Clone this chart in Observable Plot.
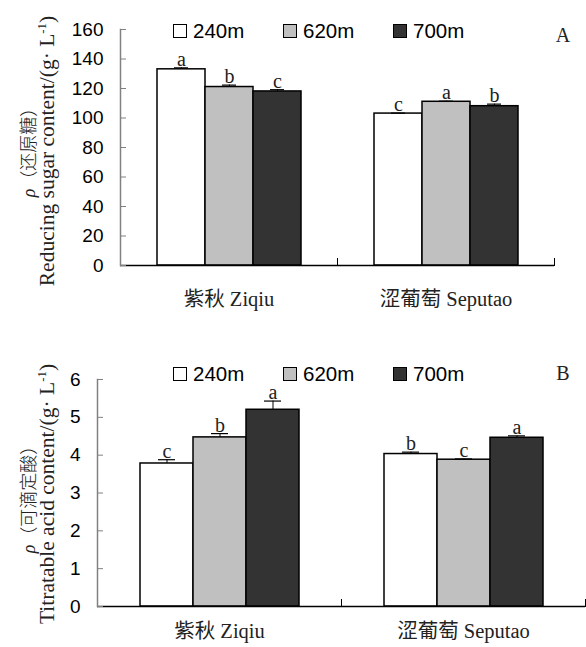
<!DOCTYPE html>
<html>
<head>
<meta charset="utf-8">
<script src="https://cdn.jsdelivr.net/npm/d3@7"></script>
<script src="https://cdn.jsdelivr.net/npm/@observablehq/plot@0.6"></script>
<style>
  body { margin: 0; background: #fff; }
  #wrap { position: relative; width: 586px; height: 647px; overflow: hidden; background: #fff; }
  .panel { position: absolute; left: 0; }
  .ylab { position: absolute; white-space: nowrap; font-family: "Liberation Serif", "Times New Roman", "Noto Sans CJK SC", serif; color: #222; line-height: 1; transform: translate(-50%, -50%) rotate(-90deg); }
  .cjk { font-family: "Noto Sans CJK SC", sans-serif; font-weight: 300; }
  .legend { position: absolute; font-family: "Liberation Sans", Arial, sans-serif; font-size: 20.5px; color: #000; }
  .legend .item { position: absolute; top: 0; white-space: nowrap; display: flex; align-items: center; }
  .legend .sw { width: 12px; height: 12px; border: 1.5px solid #000; margin-right: 6px; }
  .plabel { position: absolute; font-family: "Liberation Serif", "Times New Roman", serif; font-size: 20px; color: #222; transform: translate(-50%, -50%); }
  sup { font-size: 0.6em; }
</style>
</head>
<body>
<div id="wrap"></div>
<script>
const cultivars = ["紫秋 Ziqiu", "涩葡萄 Seputao"];
const altitudes = ["240m", "620m", "700m"];
const fills = ["#ffffff", "#c0c0c0", "#333333"];

const sugarValues = [[133, 121, 118], [103, 111, 108]];
const sugarErrors = [[1, 1.3, 1.2], [0.3, 0.4, 1.4]];
const sugarLetters = [["a", "b", "c"], ["c", "a", "b"]];
const sugarTicks = [0, 20, 40, 60, 80, 100, 120, 140, 160];

const acidValues = [[3.78, 4.47, 5.2], [4.03, 3.88, 4.46]];
const acidErrors = [[0.1, 0.1, 0.23], [0.05, 0.02, 0.05]];
const acidLetters = [["c", "b", "a"], ["b", "c", "a"]];
const acidTicks = [0, 1, 2, 3, 4, 5, 6];

const sans = "'Liberation Sans', Arial, sans-serif";
const serif = "'Liberation Serif', 'Times New Roman', 'Noto Sans CJK SC', serif";

function makePanel(cfg) {
  const data = [];
  cultivars.forEach((c, i) => altitudes.forEach((a, j) => data.push({
    cultivar: c, alt: a, value: cfg.values[i][j],
    top: cfg.values[i][j] + cfg.errors[i][j], letter: cfg.letters[i][j]
  })));
  const innerH = cfg.height - cfg.marginTop - cfg.marginBottom;
  return Plot.plot({
    width: 586, height: cfg.height,
    marginTop: cfg.marginTop, marginBottom: cfg.marginBottom,
    marginLeft: cfg.marginLeft, marginRight: cfg.marginRight,
    style: {fontFamily: sans, fontSize: "19px", background: "transparent", color: "#000", overflow: "visible"},
    fx: {domain: cultivars, padding: 0, axis: null},
    x: {domain: altitudes, paddingInner: 0, paddingOuter: cfg.outer, axis: null},
    y: {domain: [0, cfg.ticks[cfg.ticks.length - 1]]},
    color: {domain: altitudes, range: fills},
    marks: [
      Plot.barY(data, {fx: "cultivar", x: "alt", y: "value", fill: "alt", stroke: "#000", strokeWidth: 1.5}),
      Plot.ruleX(data, {fx: "cultivar", x: "alt", y1: "value", y2: "top", stroke: "#000", strokeWidth: 1}),
      Plot.tickY(data, {fx: "cultivar", x: "alt", y: "top", stroke: "#000", strokeWidth: 1.2, insetLeft: cfg.cap, insetRight: cfg.cap}),
      Plot.text(data, {fx: "cultivar", x: "alt", y: "top", text: "letter", lineAnchor: "bottom", dy: -2, fontFamily: serif, fontSize: 20, fill: "#222"}),
      Plot.ruleY([0], {stroke: "#000", strokeWidth: 1.5}),
      Plot.frame({anchor: "right", insetTop: innerH - 7, stroke: "#000", strokeWidth: 1}),
      Plot.frame({anchor: "left", facetAnchor: "left", stroke: "#808080", strokeWidth: 1.5}),
      Plot.axisY({ticks: cfg.ticks, tickFormat: d => String(d), tickSize: -6, tickPadding: 23, stroke: "#808080", fill: "#000", fontSize: 19, label: null}),
      Plot.text(cultivars, {fx: d => d, text: d => d, frameAnchor: "bottom", lineAnchor: "top", dy: cfg.fxPad, fontFamily: serif, fontSize: 20.5, fill: "#222"})
    ]
  });
}

const wrap = document.getElementById("wrap");

function addPanel(top, cfg) {
  const p = makePanel(cfg);
  p.classList.add("panel");
  p.style.top = top + "px";
  wrap.appendChild(p);
}

addPanel(0, {values: sugarValues, errors: sugarErrors, letters: sugarLetters, ticks: sugarTicks,
  height: 320, marginTop: 29, marginBottom: 55, marginLeft: 120, marginRight: 32, outer: 0.75, cap: 17, fxPad: 26});
addPanel(320, {values: acidValues, errors: acidErrors, letters: acidLetters, ticks: acidTicks,
  height: 327, marginTop: 59, marginBottom: 41, marginLeft: 97, marginRight: 1, outer: 0.77, cap: 18, fxPad: 17});

function addLegend(top) {
  const lg = document.createElement("div");
  lg.className = "legend";
  lg.style.left = "173px";
  lg.style.top = top + "px";
  altitudes.forEach((a, i) => {
    const it = document.createElement("div");
    it.className = "item";
    it.style.left = (i * 110) + "px";
    const sw = document.createElement("div");
    sw.className = "sw";
    sw.style.background = fills[i];
    it.appendChild(sw);
    it.appendChild(document.createTextNode(a));
    lg.appendChild(it);
  });
  wrap.appendChild(lg);
}
addLegend(19);
addLegend(362);

function addYLabel(cx, cy, html, size) {
  const d = document.createElement("div");
  d.className = "ylab";
  d.style.left = cx + "px";
  d.style.top = cy + "px";
  d.style.fontSize = size + "px";
  d.innerHTML = html;
  wrap.appendChild(d);
}
addYLabel(28, 148, "<i>ρ</i><span class=\"cjk\">（还原糖）</span>", 18);
addYLabel(47, 151, "Reducing sugar content/(g· L<sup>-1</sup>)", 21.5);
addYLabel(28, 495, "<i>ρ</i><span class=\"cjk\">（可滴定酸）</span>", 18);
addYLabel(47, 494, "Titratable acid content/(g· L<sup>-1</sup>)", 21.5);

function addPanelLabel(x, y, t) {
  const d = document.createElement("div");
  d.className = "plabel";
  d.style.left = x + "px";
  d.style.top = y + "px";
  d.textContent = t;
  wrap.appendChild(d);
}
addPanelLabel(563, 35, "A");
addPanelLabel(563, 373, "B");
</script>
</body>
</html>
